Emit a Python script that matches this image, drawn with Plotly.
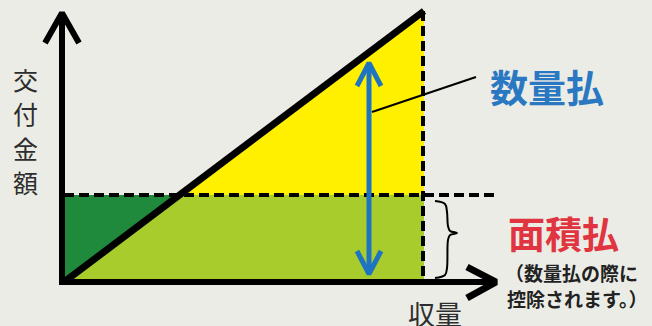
import plotly.graph_objects as go

# ---------------------------------------------------------------------------------
# diagram values (screen-like units: x to the right, y downward)
# ---------------------------------------------------------------------------------
origin_x, origin_y = 64, 282        # zero yield / zero payment
max_yield_x = 424                   # yield of the example farm
max_payment_y = 11                  # quantity payment at that yield
area_payment_y = 195                # area payment level (dashed line)

axis_y_x = [62, 62]
axis_y_y = [285, 14]
axis_y_head_x = [45, 62, 79]
axis_y_head_y = [43, 13, 43]

axis_x_x = [59, 494]
axis_x_y = [282, 282]
axis_x_head_x = [467, 496, 467]
axis_x_head_y = [267, 282, 298]

dash_v_x = [423, 423]
dash_v_y = [11, 282]
dash_h_x = [64, 497]
dash_h_y = [195, 195]

blue_x = [369, 369]
blue_y = [64, 273]
blue_top_x = [357, 369, 381]
blue_top_y = [86, 63, 86]
blue_bot_x = [357, 369, 381]
blue_bot_y = [251, 274, 251]

leader_x = [372, 476]
leader_y = [112, 77]

brace_x = [435, 445, 447, 448, 450, 457, 450, 448, 447, 445, 435]
brace_y = [201, 204, 212, 226, 231, 233, 235, 240, 268, 275, 278]

y_label_chars = ["交", "付", "金", "額"]
y_label_pos = [79, 113, 148, 182]

# where the diagonal crosses the area payment level
t = (origin_y - area_payment_y) / (origin_y - max_payment_y)
cross_x = origin_x + t * (max_yield_x - origin_x)

BG = "#ecece6"
FONT = "Noto Sans CJK JP"

fig = go.Figure()


def add_line(x, y, color="black", width=6, dash="solid", shape="linear"):
    fig.add_trace(go.Scatter(x=x, y=y, mode="lines", hoverinfo="skip", showlegend=False,
                             line=dict(color=color, width=width, dash=dash, shape=shape)))


def add_fill(x, y, color):
    fig.add_trace(go.Scatter(x=x, y=y, mode="lines", fill="toself", fillcolor=color,
                             line=dict(width=0), hoverinfo="skip", showlegend=False))


# coloured areas
add_fill([origin_x, cross_x, max_yield_x, max_yield_x, origin_x],
         [origin_y, area_payment_y, area_payment_y, origin_y, origin_y], "#a8cc2c")
add_fill([cross_x, max_yield_x, max_yield_x, cross_x],
         [area_payment_y, max_payment_y, area_payment_y, area_payment_y], "#fff000")
add_fill([origin_x, cross_x, origin_x, origin_x],
         [area_payment_y, area_payment_y, origin_y, area_payment_y], "#1f8a3c")

# dashed guides
add_line(dash_h_x, dash_h_y, width=4, dash="10px,5px")
add_line(dash_v_x, dash_v_y, width=4, dash="10px,5px")

# quantity payment line
add_line([origin_x, max_yield_x], [origin_y, max_payment_y], width=7)

# axes with open arrow heads
add_line(axis_y_x, axis_y_y, width=6)
add_line(axis_y_head_x, axis_y_head_y, width=6)
add_line(axis_x_x, axis_x_y, width=6)
add_line(axis_x_head_x, axis_x_head_y, width=7)

# blue double arrow
add_line(blue_x, blue_y, color="#1f74c2", width=5)
add_line(blue_top_x, blue_top_y, color="#1f74c2", width=5)
add_line(blue_bot_x, blue_bot_y, color="#1f74c2", width=5)

# leader line and brace
add_line(leader_x, leader_y, width=2)
add_line(brace_x, brace_y, width=2, shape="spline")

annotations = []
for ch, yy in zip(y_label_chars, y_label_pos):
    annotations.append(dict(x=25, y=yy, text=ch, showarrow=False,
                            font=dict(family=FONT, size=25, color="#2e2e2e")))

annotations += [
    dict(x=547, y=85, text="<b>数量払</b>", showarrow=False,
         font=dict(family=FONT, size=38, color="#2a78c2")),
    dict(x=563, y=233, text="<b>面積払</b>", showarrow=False,
         font=dict(family=FONT, size=37, color="#e03440")),
    dict(x=503, y=272, text="<b>（数量払の際に</b>", showarrow=False, xanchor="left",
         font=dict(family=FONT, size=19, color="#222222")),
    dict(x=505, y=298, text="<b>控除されます。）</b>", showarrow=False, xanchor="left",
         font=dict(family=FONT, size=19, color="#222222")),
    dict(x=435, y=313, text="収量", showarrow=False,
         font=dict(family=FONT, size=27, color="#2e2e2e")),
]

fig.update_layout(
    width=652,
    height=326,
    margin=dict(l=0, r=0, t=0, b=0),
    paper_bgcolor=BG,
    plot_bgcolor=BG,
    xaxis=dict(range=[0, 652], visible=False, fixedrange=True),
    yaxis=dict(range=[326, 0], visible=False, fixedrange=True),
    annotations=annotations,
)

# drop the browser's default page margin so the figure fills the window
fig.write_html("out.html", config={"displayModeBar": False},
               post_script="document.body.style.margin = '0';")
